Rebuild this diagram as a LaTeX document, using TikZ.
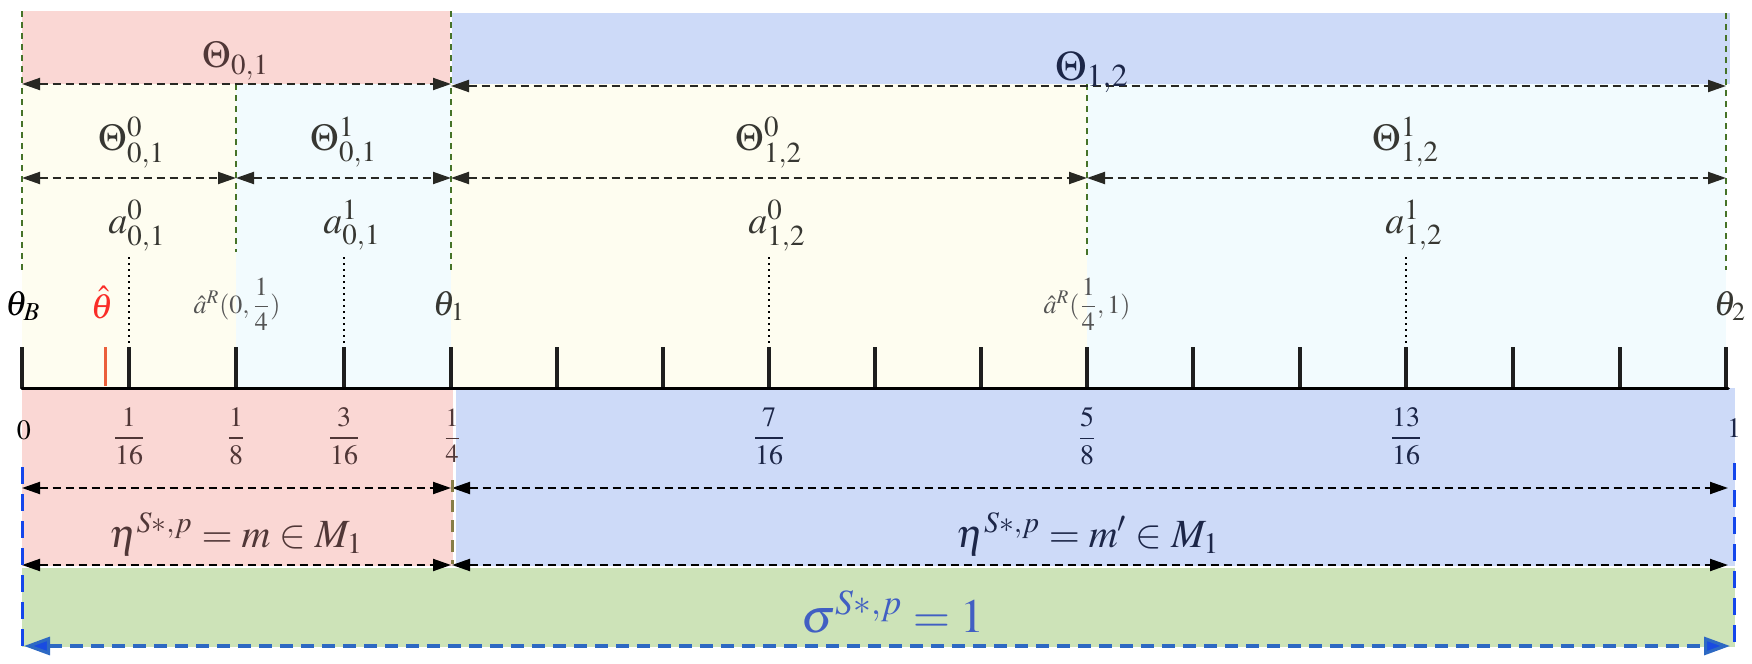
\documentclass[tikz,border=0pt]{standalone}
\usepackage{amsmath}
\usepackage{mathptmx}
\usetikzlibrary{arrows.meta}
\DeclareMathSizes{19}{19}{14.5}{11}
\DeclareMathSizes{21}{21}{16}{12}
\definecolor{topred}{RGB}{250,215,212}
\definecolor{topblue}{RGB}{205,218,248}
\definecolor{lyellow}{RGB}{254,253,240}
\definecolor{lcyan}{RGB}{242,251,254}
\definecolor{lgreen}{RGB}{205,227,184}
\definecolor{bndgreen}{RGB}{70,115,40}
\definecolor{dimdark}{RGB}{40,40,35}
\definecolor{tickc}{RGB}{30,30,30}
\definecolor{sigline}{RGB}{45,105,195}
\definecolor{sighead}{RGB}{25,75,225}
\definecolor{brightblue}{RGB}{20,70,235}
\definecolor{olivec}{RGB}{135,125,70}
\definecolor{hatred}{RGB}{235,95,60}
\definecolor{hattext}{RGB}{250,45,40}
\definecolor{brn}{RGB}{80,55,55}
\definecolor{navy}{RGB}{28,38,72}
\definecolor{dgray}{RGB}{55,55,50}
\definecolor{mgray}{RGB}{85,85,85}
\definecolor{sigtext}{RGB}{65,95,195}
\begin{document}
\begin{tikzpicture}[x=0.5pt,y=-0.5pt,
  bnd/.style={draw=bndgreen, line width=0.7pt, dash pattern=on 3pt off 2.5pt},
  dimline/.style={{Triangle[length=9pt,width=6pt]}-{Triangle[length=9pt,width=6pt]}, draw=dimdark, line width=1pt, dash pattern=on 4pt off 2.5pt},
  tickmark/.style={draw=tickc, line width=1.6pt},
  dotl/.style={draw=black, line width=0.8pt, dash pattern=on 1pt off 2pt},
  lbl/.style={inner sep=0pt, outer sep=0pt, anchor=base},
  fracl/.style={inner sep=0pt, outer sep=0pt, font=\fontsize{14}{16}\selectfont},
  midl/.style={font=\fontsize{19}{22}\selectfont},
  thl/.style={font=\fontsize{17.5}{20}\selectfont},
  smalll/.style={font=\fontsize{13}{15}\selectfont, text=mgray},
]
\useasboundingbox (0,0) rectangle (1752,664);

% backgrounds
\fill[topred] (22,11) rectangle (450,84);
\fill[topblue] (452,13) rectangle (1730,84);
\fill[lyellow] (22,84) rectangle (236,388);
\fill[lcyan] (236,84) rectangle (451,388);
\fill[lyellow] (451,84) rectangle (1087,388);
\fill[lcyan] (1087,84) rectangle (1726,388);
\fill[topred] (22,388) rectangle (453,566);
\fill[topblue] (456,388) rectangle (1735,566);
\fill[lgreen] (22,568) rectangle (1735,647);

% coordinates
\foreach \n/\x in {a/22, b/236, c/451, d/1087, e/1726} {
  \coordinate (\n-top) at (\x,11);
  \coordinate (\n-r1) at (\x,84);
  \coordinate (\n-r2) at (\x,178);
}
\coordinate (c-r1b) at (451,86);
\coordinate (e-r1b) at (1726,86);
\coordinate (a-end) at (22,270);
\coordinate (b-end) at (236,252);
\coordinate (c-end) at (451,270);
\coordinate (d-end) at (1087,255);
\coordinate (e-end) at (1726,270);
\coordinate (e-top2) at (1726,13);

% boundary dashed lines
\draw[bnd] (a-top) -- (a-end);
\draw[bnd] (c-top) -- (c-end);
\draw[bnd] (e-top2) -- (e-end);
\draw[bnd] (b-r1) -- (b-end);
\draw[bnd] (d-r1) -- (d-end);

% dimension arrows top
\draw[dimline] (a-r1) -- (c-r1);
\draw[dimline] (c-r1b) -- (e-r1b);
\draw[dimline] (a-r2) -- (b-r2);
\draw[dimline] (b-r2) -- (c-r2);
\draw[dimline] (c-r2) -- (d-r2);
\draw[dimline] (d-r2) -- (e-r2);

% labels top
\node[lbl, midl, text=brn] (T01) at (236,68) {$\Theta_{0,1}$};
\node[lbl, font=\fontsize{21}{24}\selectfont, text=navy] (T12) at (1092,80) {$\Theta_{1,2}$};
\node[lbl, midl, text=dgray] (T001) at (132,150) {$\Theta^{0}_{0,1}$};
\node[lbl, midl, text=dgray] (T101) at (344,150) {$\Theta^{1}_{0,1}$};
\node[lbl, midl, text=dgray] (T012) at (769,150) {$\Theta^{0}_{1,2}$};
\node[lbl, midl, text=dgray] (T112) at (1406,150) {$\Theta^{1}_{1,2}$};

% ticks
\foreach \x [count=\i] in {22,129,236,344,451,557,663,769,875,981,1087,1193,1300,1406,1513,1620,1726} {
  \coordinate (tk-\i) at (\x,347);
  \coordinate (tb-\i) at (\x,388);
  \draw[tickmark] (tk-\i) -- (tb-\i);
}
\coordinate (hat-top) at (105,347);
\coordinate (hat-bot) at (105,386);
\draw[draw=hatred, line width=1.5pt] (hat-top) -- (hat-bot);

% axis
\coordinate (ax0) at (22,388.5);
\coordinate (ax1) at (1728,388.5);
\draw[line width=1.8pt, line cap=round] (ax0) -- (ax1);

% dotted lines and a labels
\foreach \x/\nm/\lab in {129/a001/{a^{0}_{0,1}}, 344/a101/{a^{1}_{0,1}}, 769/a012/{a^{0}_{1,2}}, 1406/a112/{a^{1}_{1,2}}} {
  \coordinate (\nm-d) at (\x,257);
  \coordinate (\nm-b) at (\x,347);
  \draw[dotl] (\nm-d) -- (\nm-b);
  \node[lbl, midl, text=dgray] (\nm) at (\x+8,233) {$\lab$};
}

% theta labels
\node[lbl, thl, text=black] (thB) at (23,315) {$\theta_B$};
\node[lbl, thl, text=hattext] (thhat) at (102,318) {$\hat\theta$};
\node[lbl, thl, text=dgray] (th1) at (449,315) {$\theta_1$};
\node[lbl, thl, text=dgray] (th2) at (1730,315) {$\theta_2$};
\node[lbl, smalll] (aR1) at (237,313) {$\hat a^{R}(0,\dfrac{1}{4})$};
\node[lbl, smalll] (aR2) at (1087,313) {$\hat a^{R}(\dfrac{1}{4},1)$};

% tick labels
\node[fracl, text=black] (l0) at (24,430) {$0$};
\node[fracl, text=brn] (l1) at (129,436) {$\dfrac{1}{16}$};
\node[fracl, text=brn] (l2) at (236,436) {$\dfrac{1}{8}$};
\node[fracl, text=brn] (l3) at (344,436) {$\dfrac{3}{16}$};
\node[fracl, text=brn, font=\fontsize{13}{15}\selectfont] (l4) at (452,436) {$\dfrac{1}{4}$};
\node[fracl, text=navy] (l7) at (769,436) {$\dfrac{7}{16}$};
\node[fracl, text=navy] (l10) at (1087,436) {$\dfrac{5}{8}$};
\node[fracl, text=navy] (l13) at (1406,436) {$\dfrac{13}{16}$};
\node[fracl, text=navy] (l16) at (1734,428) {$1$};

% eta arrows
\coordinate (ea1) at (22,488);
\coordinate (ec1) at (451,488);
\coordinate (ec1r) at (452,488);
\coordinate (ee1) at (1728,488);
\coordinate (ea2) at (22,565);
\coordinate (ec2) at (451,565);
\coordinate (ec2r) at (452,565);
\coordinate (ee2) at (1728,565);
\draw[dimline, draw=black] (ea1) -- (ec1);
\draw[dimline, draw=black] (ec1r) -- (ee1);
\draw[dimline, draw=black] (ea2) -- (ec2);
\draw[dimline, draw=black] (ec2r) -- (ee2);
\coordinate (ol1) at (452,480);
\coordinate (ol2) at (452,564);
\draw[draw=olivec, line width=1.5pt, dash pattern=on 6pt off 4pt] (ol1) -- (ol2);

\node[lbl, font=\fontsize{20}{24}\selectfont, text=brn] (eta1) at (236,547) {$\eta^{S*,p}=m\in M_1$};
\node[lbl, font=\fontsize{20}{24}\selectfont, text=navy] (eta2) at (1088,547) {$\eta^{S*,p}=m'\in M_1$};

% sigma
\coordinate (bl1) at (22,467);
\coordinate (bl2) at (22,647);
\coordinate (br1) at (1734,463);
\coordinate (br2) at (1734,647);
\draw[draw=brightblue, line width=1.5pt, dash pattern=on 8.5pt off 5pt] (bl1) -- (bl2);
\draw[draw=brightblue, line width=1.5pt, dash pattern=on 8.5pt off 5pt] (br1) -- (br2);
\coordinate (s1) at (24,646);
\coordinate (s2) at (1730,646);
\draw[{Triangle[length=13pt,width=9pt,fill=sighead]}-{Triangle[length=13pt,width=9pt,fill=sighead]}, draw=sigline, line width=1.6pt, dash pattern=on 6.5pt off 4pt] (s1) -- (s2);
\node[lbl, font=\fontsize{24}{28}\selectfont, text=sigtext] (sig) at (893,632) {$\sigma^{S*,p}=1$};
\end{tikzpicture}
\end{document}
